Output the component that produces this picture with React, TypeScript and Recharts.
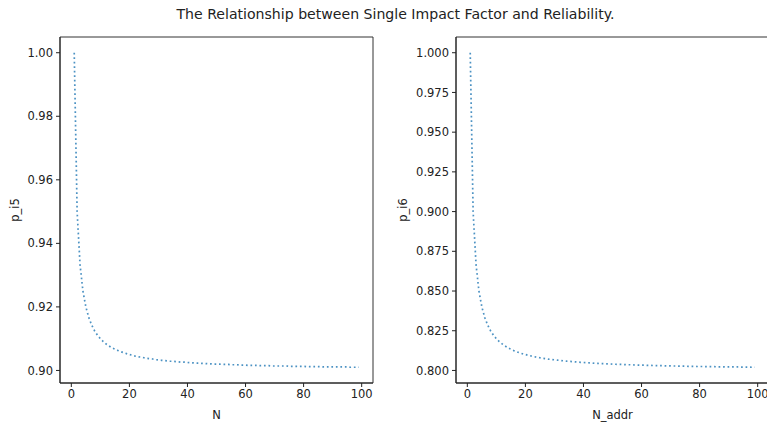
import { Line, LineChart, ReferenceArea, XAxis, YAxis } from "recharts";

const TITLE = "The Relationship between Single Impact Factor and Reliability.";
const LINE_COLOR = "#1f77b4";
const FONT = "'DejaVu Sans', sans-serif";

const nValues = [
  1, 2, 3, 4, 5, 6, 7, 8, 9, 10, 11, 12, 13, 14, 15, 16, 17, 18, 19, 20,
  21, 22, 23, 24, 25, 26, 27, 28, 29, 30, 31, 32, 33, 34, 35, 36, 37, 38, 39, 40,
  41, 42, 43, 44, 45, 46, 47, 48, 49, 50, 51, 52, 53, 54, 55, 56, 57, 58, 59, 60,
  61, 62, 63, 64, 65, 66, 67, 68, 69, 70, 71, 72, 73, 74, 75, 76, 77, 78, 79, 80,
  81, 82, 83, 84, 85, 86, 87, 88, 89, 90, 91, 92, 93, 94, 95, 96, 97, 98, 99,
];

const pI5 = [
  1.0, 0.95, 0.9333, 0.925, 0.92, 0.9167, 0.9143, 0.9125, 0.9111, 0.91,
  0.9091, 0.9083, 0.9077, 0.9071, 0.9067, 0.9063, 0.9059, 0.9056, 0.9053, 0.905,
  0.9048, 0.9045, 0.9043, 0.9042, 0.904, 0.9038, 0.9037, 0.9036, 0.9034, 0.9033,
  0.9032, 0.9031, 0.903, 0.9029, 0.9029, 0.9028, 0.9027, 0.9026, 0.9026, 0.9025,
  0.9024, 0.9024, 0.9023, 0.9023, 0.9022, 0.9022, 0.9021, 0.9021, 0.902, 0.902,
  0.902, 0.9019, 0.9019, 0.9019, 0.9018, 0.9018, 0.9018, 0.9017, 0.9017, 0.9017,
  0.9016, 0.9016, 0.9016, 0.9016, 0.9015, 0.9015, 0.9015, 0.9015, 0.9014, 0.9014,
  0.9014, 0.9014, 0.9014, 0.9014, 0.9013, 0.9013, 0.9013, 0.9013, 0.9013, 0.9013,
  0.9012, 0.9012, 0.9012, 0.9012, 0.9012, 0.9012, 0.9011, 0.9011, 0.9011, 0.9011,
  0.9011, 0.9011, 0.9011, 0.9011, 0.9011, 0.901, 0.901, 0.901, 0.901,
];

const pI6 = [
  1.0, 0.9, 0.8667, 0.85, 0.84, 0.8333, 0.8286, 0.825, 0.8222, 0.82,
  0.8182, 0.8167, 0.8154, 0.8143, 0.8133, 0.8125, 0.8118, 0.8111, 0.8105, 0.81,
  0.8095, 0.8091, 0.8087, 0.8083, 0.808, 0.8077, 0.8074, 0.8071, 0.8069, 0.8067,
  0.8065, 0.8063, 0.8061, 0.8059, 0.8057, 0.8056, 0.8054, 0.8053, 0.8051, 0.805,
  0.8049, 0.8048, 0.8047, 0.8045, 0.8044, 0.8043, 0.8043, 0.8042, 0.8041, 0.804,
  0.8039, 0.8038, 0.8038, 0.8037, 0.8036, 0.8036, 0.8035, 0.8034, 0.8034, 0.8033,
  0.8033, 0.8032, 0.8032, 0.8031, 0.8031, 0.803, 0.803, 0.8029, 0.8029, 0.8029,
  0.8028, 0.8028, 0.8027, 0.8027, 0.8027, 0.8026, 0.8026, 0.8026, 0.8025, 0.8025,
  0.8025, 0.8024, 0.8024, 0.8024, 0.8024, 0.8023, 0.8023, 0.8023, 0.8022, 0.8022,
  0.8022, 0.8022, 0.8022, 0.8021, 0.8021, 0.8021, 0.8021, 0.802, 0.802,
];

const xTicks = [0, 20, 40, 60, 80, 100];
const yTicksLeft = [0.9, 0.92, 0.94, 0.96, 0.98, 1.0];
const yTicksRight = [0.8, 0.825, 0.85, 0.875, 0.9, 0.925, 0.95, 0.975, 1.0];

const X_DOMAIN: [number, number] = [-3.9, 103.9];

const leftData = nValues.map((n, i) => ({ n, p: pI5[i] }));
const rightData = nValues.map((n, i) => ({ n, p: pI6[i] }));

const tickStyle = { fontSize: 11.5, fill: "#222", fontFamily: FONT };
const labelStyle = { fontSize: 11.5, fill: "#222", fontFamily: FONT };

interface PanelProps {
  data: { n: number; p: number }[];
  yTicks: number[];
  yDomain: [number, number];
  digits: number;
  xLabel: string;
  yLabel: string;
  yLabelDx: number;
}

function Panel({ data, yTicks, yDomain, digits, xLabel, yLabel, yLabelDx }: PanelProps) {
  return (
    <LineChart
      data={data}
      height={425}
      margin={{ top: 37, right: 27, bottom: 0, left: 0 }}
      width={400}
    >
      <XAxis
        allowDataOverflow
        axisLine={{ stroke: "#222" }}
        dataKey="n"
        domain={X_DOMAIN}
        height={42}
        label={{ value: xLabel, position: "insideBottom", offset: 6, style: labelStyle }}
        tick={tickStyle}
        tickLine={{ stroke: "#222" }}
        tickMargin={3}
        tickSize={4}
        ticks={xTicks}
        type="number"
      />
      <YAxis
        allowDataOverflow
        axisLine={{ stroke: "#222" }}
        domain={yDomain}
        label={{
          value: yLabel,
          angle: -90,
          position: "center",
          dx: yLabelDx,
          style: labelStyle,
        }}
        tick={tickStyle}
        tickFormatter={(v: number) => v.toFixed(digits)}
        tickLine={{ stroke: "#222" }}
        tickMargin={3}
        tickSize={4}
        ticks={yTicks}
        type="number"
        width={60}
      />
      {/* frame of the axes, like matplotlib's spines */}
      <ReferenceArea
        fill="none"
        ifOverflow="visible"
        stroke="#333"
        strokeWidth={1}
        x1={X_DOMAIN[0]}
        x2={X_DOMAIN[1]}
        y1={yDomain[0]}
        y2={yDomain[1]}
      />
      <Line
        dataKey="p"
        dot={false}
        isAnimationActive={false}
        stroke={LINE_COLOR}
        strokeDasharray="1.7 2.8"
        strokeOpacity={0.8}
        strokeWidth={1.7}
        type="linear"
      />
    </LineChart>
  );
}

export default function App() {
  return (
    <div
      style={{
        position: "absolute",
        left: 0,
        top: 0,
        width: 767,
        height: 425,
        overflow: "hidden",
        background: "#fff",
        fontFamily: FONT,
      }}
    >
      <div
        style={{
          position: "absolute",
          left: 0,
          top: 5,
          width: 791,
          textAlign: "center",
          fontSize: 14.1,
          color: "#222",
          lineHeight: "19px",
        }}
      >
        {TITLE}
      </div>
      <div style={{ position: "absolute", left: 0, top: 0 }}>
        <Panel
          data={leftData}
          digits={2}
          xLabel="N"
          yDomain={[0.89605, 1.00495]}
          yLabel="p_i5"
          yLabelDx={-15}
          yTicks={yTicksLeft}
        />
      </div>
      <div style={{ position: "absolute", left: 396, top: 0 }}>
        <Panel
          data={rightData}
          digits={3}
          xLabel="N_addr"
          yDomain={[0.7921, 1.0099]}
          yLabel="p_i6"
          yLabelDx={-23}
          yTicks={yTicksRight}
        />
      </div>
    </div>
  );
}
